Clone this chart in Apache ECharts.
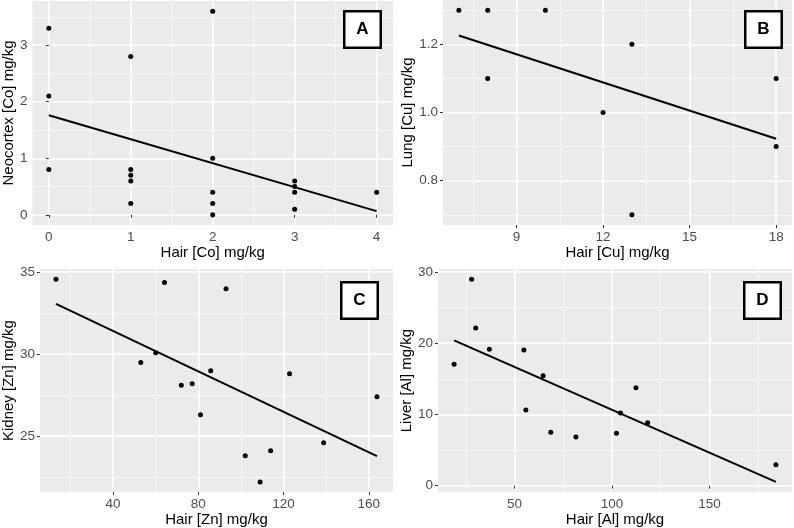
<!DOCTYPE html>
<html>
<head>
<meta charset="utf-8">
<script src="https://cdn.jsdelivr.net/npm/echarts@6/dist/echarts.min.js"></script>
<style>
  html, body { margin: 0; padding: 0; background: #fff; }
  #chart { width: 794px; height: 528px; }
</style>
</head>
<body>
<div id="chart"></div>
<script>
// panel A: cobalt, hair vs neocortex
var hairCo = [0, 0, 0, 1, 1, 1, 1, 1, 2, 2, 2, 2, 2, 3, 3, 3, 3, 4]
var neoCo = [3.3, 2.1, 0.8, 2.8, 0.8, 0.7, 0.6, 0.2, 3.6, 1.0, 0.4, 0.2, 0.0, 0.6, 0.5, 0.4, 0.1, 0.4]
var fitCo = [1.76, 0.065]
var ticksCoX = [0, 1, 2, 3, 4]
var ticksCoY = [0, 1, 2, 3]

// panel B: copper, hair vs lung
var hairCu = [7, 8, 8, 10, 12, 13, 13, 18, 18]
var lungCu = [1.3, 1.3, 1.1, 1.3, 1.0, 1.2, 0.7, 1.1, 0.9]
var fitCu = [1.226, 0.923]
var ticksCuX = [9, 12, 15, 18]
var ticksCuY = [0.8, 1.0, 1.2]

// panel C: zinc, hair vs kidney
var hairZn = [13.2, 64.1, 53.0, 60.0, 72.0, 77.1, 81.0, 85.8, 93.0, 122.8, 163.8, 138.8, 113.9, 102.0, 109.0]
var kidneyZn = [34.57, 34.37, 29.49, 30.08, 28.1, 28.2, 26.3, 28.99, 33.99, 28.8, 27.41, 24.6, 24.11, 23.81, 22.21]
var fitZn = [33.06, 23.79]
var ticksZnX = [40, 80, 120, 160]
var ticksZnY = [25, 30, 35]

// panel D: aluminium, hair vs liver
var hairAl = [19.0, 28.0, 30.1, 37.1, 54.8, 55.8, 64.7, 68.6, 81.5, 112.3, 104.4, 102.3, 118.3, 184.1]
var liverAl = [17.04, 29.0, 22.14, 19.14, 19.05, 10.63, 15.45, 7.49, 6.84, 13.76, 10.2, 7.35, 8.85, 2.95]
var fitAl = [20.4, 0.52]
var ticksAlX = [50, 100, 150]
var ticksAlY = [0, 10, 20, 30]

var FONT = 'Liberation Sans, Arial, sans-serif'

var panels = [
  { x: hairCo, y: neoCo, fit: fitCo, tx: ticksCoX, ty: ticksCoY, xName: 'Hair [Co] mg/kg', yName: 'Neocortex [Co] mg/kg',
    grid: { left: 30, top: 1, width: 363, height: 224 }, yGap: 9, letter: 'A', box: [343, 10], dec: 0 },
  { x: hairCu, y: lungCu, fit: fitCu, tx: ticksCuX, ty: ticksCuY, xName: 'Hair [Cu] mg/kg', yName: 'Lung [Cu] mg/kg',
    grid: { left: 443, top: 0, width: 349, height: 225 }, yGap: 18, letter: 'B', box: [744, 10], dec: 1 },
  { x: hairZn, y: kidneyZn, fit: fitZn, tx: ticksZnX, ty: ticksZnY, xName: 'Hair [Zn] mg/kg', yName: 'Kidney [Zn] mg/kg',
    grid: { left: 37, top: 269, width: 356, height: 224 }, yGap: 17.5, letter: 'C', box: [340, 281], dec: 0 },
  { x: hairAl, y: liverAl, fit: fitAl, tx: ticksAlX, ty: ticksAlY, xName: 'Hair [Al] mg/kg', yName: 'Liver [Al] mg/kg',
    grid: { left: 438, top: 269, width: 354, height: 224 }, yGap: 16.5, letter: 'D', box: [743, 281], dec: 0 }
]

// ggplot style 5% expansion of the data range
function expand(vals) {
  var lo = Math.min.apply(null, vals), hi = Math.max.apply(null, vals)
  var r = hi - lo
  return [lo - r * 0.05, hi + r * 0.05]
}

// minor breaks halfway between the major ones
function minors(ticks, lim) {
  var step = ticks[1] - ticks[0]
  var out = []
  for (var i = -1; i < ticks.length; i++) {
    var v = ticks[0] + step * (i + 0.5)
    if (v > lim[0] && v < lim[1]) out.push(+v.toFixed(6))
  }
  return out
}

var grids = [], xAxes = [], yAxes = [], series = [], graphics = []

panels.forEach(function (p, i) {
  var xLim = expand(p.x)
  var yLim = expand(p.y.concat(p.fit))
  var xMin = Math.min.apply(null, p.x), xMax = Math.max.apply(null, p.x)
  var major = { show: true, lineStyle: { color: '#FFFFFF', width: 1.6, type: 'solid' } }

  grids.push(Object.assign({ show: true, backgroundColor: '#EBEBEB', borderWidth: 0 }, p.grid))

  xAxes.push({
    type: 'value', gridIndex: i, min: xLim[0], max: xLim[1],
    name: p.xName, nameLocation: 'middle', nameGap: 19,
    nameTextStyle: { color: '#000', fontSize: 15, fontFamily: FONT },
    axisLine: { show: false },
    axisTick: { show: true, length: 3, customValues: p.tx, lineStyle: { color: '#333', width: 1 } },
    axisLabel: { customValues: p.tx, color: '#4D4D4D', fontSize: 13.5, fontFamily: FONT, margin: 5 },
    splitLine: major
  })
  yAxes.push({
    type: 'value', gridIndex: i, min: yLim[0], max: yLim[1],
    name: p.yName, nameLocation: 'middle', nameGap: p.yGap,
    nameTextStyle: { color: '#000', fontSize: 15, fontFamily: FONT },
    axisLine: { show: false },
    axisTick: { show: true, length: 3, customValues: p.ty, lineStyle: { color: '#333', width: 1 } },
    axisLabel: {
      customValues: p.ty, color: '#4D4D4D', fontSize: 13.5, fontFamily: FONT, margin: 5,
      formatter: function (v) { return v.toFixed(p.dec) }
    },
    splitLine: major
  })

  // minor grid lines halfway between the breaks
  var lines = []
  minors(p.tx, xLim).forEach(function (v) { lines.push({ xAxis: v }) })
  minors(p.ty, yLim).forEach(function (v) { lines.push({ yAxis: v }) })

  series.push({
    type: 'scatter', xAxisIndex: i, yAxisIndex: i, data: [], silent: true,
    markLine: {
      silent: true, symbol: ['none', 'none'], label: { show: false },
      lineStyle: { type: 'solid', color: '#F7F7F7', width: 1 },
      emphasis: { disabled: true }, animation: false, data: lines
    }
  })

  series.push({
    type: 'scatter', xAxisIndex: i, yAxisIndex: i, z: 10,
    symbolSize: 5, itemStyle: { color: '#000', opacity: 1 },
    data: p.x.map(function (v, k) { return [v, p.y[k]] })
  })

  series.push({
    type: 'line', xAxisIndex: i, yAxisIndex: i, z: 11,
    showSymbol: false, symbol: 'none',
    lineStyle: { color: '#000', width: 2 },
    data: [[xMin, p.fit[0]], [xMax, p.fit[1]]]
  })

  graphics.push({
    type: 'group', x: p.box[0], y: p.box[1], z: 20,
    children: [
      { type: 'rect', z: 20, shape: { x: 1.25, y: 1.25, width: 36.5, height: 36.5 },
        style: { fill: '#fff', stroke: '#000', lineWidth: 2.5 } },
      { type: 'text', z: 21, x: 19.5, y: 19.5,
        style: { text: p.letter, align: 'center', verticalAlign: 'middle',
          fontSize: 17, fontWeight: 'bold', fontFamily: FONT, fill: '#000' } }
    ]
  })
})

var myChart = echarts.init(document.getElementById('chart'))
myChart.setOption({
  animation: false,
  grid: grids,
  xAxis: xAxes,
  yAxis: yAxes,
  series: series,
  graphic: graphics
})
</script>
</body>
</html>
